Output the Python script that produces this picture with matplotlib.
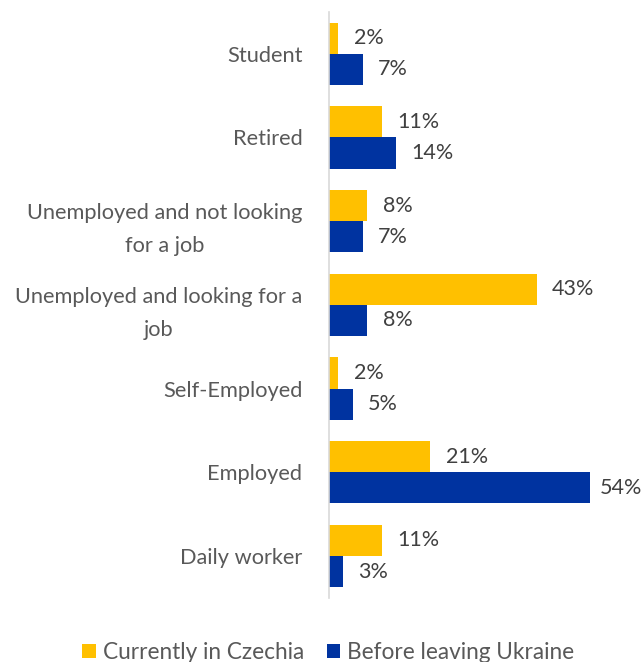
import matplotlib.pyplot as plt
import numpy as np

plt.rcParams['font.family'] = ['Lato', 'DejaVu Sans']

categories = [
    'Student',
    'Retired',
    'Unemployed and not looking\nfor a job',
    'Unemployed and looking for a\njob',
    'Self-Employed',
    'Employed',
    'Daily worker',
]
current_czechia = [2, 11, 8, 43, 2, 21, 11]
before_ukraine = [7, 14, 7, 8, 5, 54, 3]
series_names = ['Currently in Czechia', 'Before leaving Ukraine']

yellow = '#FFC000'
blue = '#0033A0'

fig = plt.figure(figsize=(6.41, 6.62), dpi=100)
ax = fig.add_axes([0.513, 0.097, 0.487, 0.885])

y = np.arange(len(categories))
h = 0.372
bars1 = ax.barh(y - h / 2, current_czechia, height=h, color=yellow, label=series_names[0])
bars2 = ax.barh(y + h / 2, before_ukraine, height=h, color=blue, label=series_names[1])

ax.set_ylim(len(categories) - 0.5, -0.5)
ax.set_xlim(0, 64.6)

for bars in (bars1, bars2):
    for b in bars:
        v = b.get_width()
        off = 7 if v > 50 else 11
        ax.annotate(f'{v:.0f}%', (v, b.get_y() + b.get_height() / 2),
                    xytext=(off, 0), textcoords='offset points',
                    ha='left', va='center', fontsize=15.5, color='#404040')

ax.set_yticks(y)
ax.set_yticklabels(categories, fontsize=15.7, color='#595959',
                   multialignment='center', linespacing=1.8)
ax.tick_params(axis='y', length=0, pad=19)
ax.set_xticks([])
for side in ('top', 'right', 'bottom'):
    ax.spines[side].set_visible(False)
ax.spines['left'].set_color('#D9D9D9')
ax.spines['left'].set_linewidth(1.2)

fig.legend(handles=[bars1, bars2], labels=series_names, loc='center',
           bbox_to_anchor=(0.512, 0.014), ncol=2, frameon=False,
           fontsize=16.3, labelcolor='#595959', handlelength=0.6, handleheight=0.6,
           handletextpad=0.3, columnspacing=1.0)

fig.savefig('out.png', dpi=100)
